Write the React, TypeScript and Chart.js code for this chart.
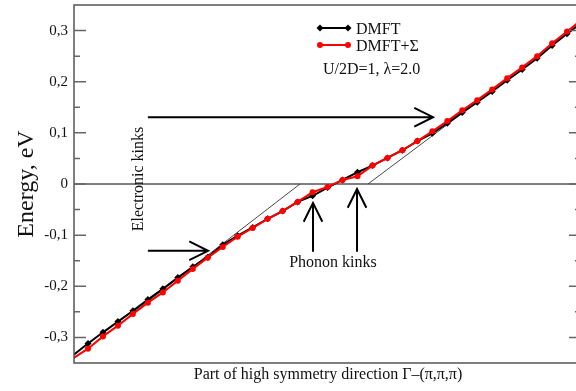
import React, { useEffect, useRef } from "react";
import { Chart, registerables } from "chart.js";
Chart.register(...registerables);

// k-point index along the path (edge points -1 and 33 only continue the lines to the frame)
const K_POS = [-1, 0, 1, 2, 3, 4, 5, 6, 7, 8, 9, 10, 11, 12, 13, 14, 15, 16, 17, 18, 19, 20, 21, 22, 23, 24, 25, 26, 27, 28, 29, 30, 31, 32, 33];
const DMFT = [-0.335, -0.312, -0.290, -0.269, -0.248, -0.226, -0.205, -0.183, -0.162, -0.143, -0.119, -0.101, -0.085, -0.068, -0.053, -0.035, -0.023, -0.007, 0.008, 0.023, 0.036, 0.051, 0.066, 0.084, 0.099, 0.119, 0.140, 0.160, 0.181, 0.203, 0.224, 0.246, 0.271, 0.294, 0.316];
const DMFT_SIGMA = [-0.341, -0.322, -0.298, -0.277, -0.254, -0.232, -0.212, -0.189, -0.166, -0.144, -0.123, -0.103, -0.086, -0.068, -0.053, -0.035, -0.016, -0.006, 0.008, 0.015, 0.036, 0.051, 0.066, 0.084, 0.103, 0.123, 0.144, 0.164, 0.185, 0.207, 0.228, 0.250, 0.275, 0.298, 0.322];
// thin "bare" dispersion guide lines
const BARE_LOW_X = [3, 14.16];
const BARE_LOW_Y = [-0.252, 0];
const BARE_HIGH_X = [18.7, 27];
const BARE_HIGH_Y = [0, 0.182];
const ZERO_X = [-2, 35];
const ZERO_Y = [0, 0];
const Y_TICKS = [-0.3, -0.2, -0.1, 0, 0.1, 0.2, 0.3];
const Y_MINOR = [-0.25, -0.15, -0.05, 0.05, 0.15, 0.25];
const X_MIN = -0.935;
const X_MAX = 32.93;
const Y_MIN = -0.35;
const Y_MAX = 0.35;
// arrows: [x1, y1, x2, y2] in data units
const ARROWS = [
  [4.0, 0.1306, 23.05, 0.1306],
  [4.0, -0.1306, 8.02, -0.1306],
  [15.03, -0.1326, 15.03, -0.037],
  [17.97, -0.1326, 17.97, -0.0097],
];

const SERIF = '"Liberation Serif", "Times New Roman", serif';

export default function App() {
  const ref = useRef<HTMLCanvasElement>(null);
  useEffect(() => {
    const toXY = (xs: number[], ys: number[]) => xs.map((x, i) => ({ x, y: ys[i] }));
    const radii = K_POS.map((k) => (k < 0 || k > 32 ? 0 : 3));

    const annot = {
      id: "annot",
      afterDatasetsDraw(chart: any) {
        const { ctx, chartArea: a, scales } = chart;
        const xs = scales.x;
        const ys = scales.y;
        const px = (v: number) => xs.getPixelForValue(v);
        const py = (v: number) => ys.getPixelForValue(v);
        ctx.save();
        // frame
        ctx.strokeStyle = "#555";
        ctx.lineWidth = 1.5;
        ctx.strokeRect(a.left, a.top, a.right - a.left, a.bottom - a.top);
        // inward ticks both sides
        ctx.strokeStyle = "#666";
        ctx.lineWidth = 1.5;
        const tick = (v: number, len: number) => {
          const yy = py(v);
          ctx.beginPath();
          ctx.moveTo(a.left, yy);
          ctx.lineTo(a.left + len, yy);
          ctx.moveTo(a.right, yy);
          ctx.lineTo(a.right - len, yy);
          ctx.stroke();
        };
        Y_TICKS.forEach((v) => tick(v, 12));
        Y_MINOR.forEach((v) => tick(v, 6));
        // arrows
        ctx.strokeStyle = "#000";
        ctx.lineWidth = 2;
        ARROWS.forEach(([x1, y1, x2, y2]) => {
          const X1 = px(x1), Y1 = py(y1), X2 = px(x2), Y2 = py(y2);
          const ang = Math.atan2(Y2 - Y1, X2 - X1);
          const hl = 21, ha = 0.46;
          ctx.beginPath();
          ctx.moveTo(X1, Y1);
          ctx.lineTo(X2, Y2);
          ctx.moveTo(X2 - hl * Math.cos(ang - ha), Y2 - hl * Math.sin(ang - ha));
          ctx.lineTo(X2, Y2);
          ctx.lineTo(X2 - hl * Math.cos(ang + ha), Y2 - hl * Math.sin(ang + ha));
          ctx.stroke();
        });
        // legend
        ctx.lineWidth = 2;
        ctx.strokeStyle = "#000";
        ctx.fillStyle = "#000";
        ctx.beginPath();
        ctx.moveTo(320, 28);
        ctx.lineTo(348, 28);
        ctx.stroke();
        [320, 348].forEach((xx) => {
          ctx.beginPath();
          ctx.moveTo(xx, 24.5);
          ctx.lineTo(xx + 3.5, 28);
          ctx.lineTo(xx, 31.5);
          ctx.lineTo(xx - 3.5, 28);
          ctx.closePath();
          ctx.fill();
        });
        ctx.strokeStyle = "#ff0000";
        ctx.fillStyle = "#ff0000";
        ctx.beginPath();
        ctx.moveTo(320, 45);
        ctx.lineTo(348, 45);
        ctx.stroke();
        [320, 348].forEach((xx) => {
          ctx.beginPath();
          ctx.arc(xx, 45, 3, 0, Math.PI * 2);
          ctx.fill();
        });
        ctx.fillStyle = "#111";
        ctx.textAlign = "left";
        ctx.textBaseline = "alphabetic";
        ctx.font = `16px ${SERIF}`;
        ctx.fillText("DMFT", 356, 34);
        ctx.fillText("DMFT+\u03A3", 356, 51);
        ctx.fillText("U/2D=1, \u03BB=2.0", 323, 74);
        // phonon kinks
        ctx.textAlign = "center";
        ctx.fillText("Phonon kinks", 333, 267);
        // x title
        ctx.fillText("Part of high symmetry direction \u0393\u2013(\u03C0,\u03C0,\u03C0)", 328, 379);
        // rotated texts
        ctx.save();
        ctx.translate(143, 179);
        ctx.rotate(-Math.PI / 2);
        ctx.font = `16px ${SERIF}`;
        ctx.fillText("Electronic kinks", 0, 0);
        ctx.restore();
        ctx.save();
        ctx.translate(33, 184);
        ctx.rotate(-Math.PI / 2);
        ctx.font = `24px ${SERIF}`;
        ctx.fillText("Energy, eV", 0, 0);
        ctx.restore();
        ctx.restore();
      },
    };

    const chart = new Chart(ref.current as HTMLCanvasElement, {
      type: "line",
      data: {
        datasets: [
          {
            label: "DMFT+\u03A3",
            data: toXY(K_POS, DMFT_SIGMA),
            borderColor: "#ff0000",
            backgroundColor: "#ff0000",
            borderWidth: 2,
            pointRadius: radii,
            pointStyle: "circle",
            pointBorderWidth: 0,
            order: 0,
          },
          {
            label: "DMFT",
            data: toXY(K_POS, DMFT),
            borderColor: "#000",
            backgroundColor: "#000",
            borderWidth: 2,
            pointRadius: radii.map((r) => (r ? 3.5 : 0)),
            pointStyle: "rectRot",
            pointBorderWidth: 0,
            order: 1,
          },
          {
            label: "bare1",
            data: toXY(BARE_LOW_X, BARE_LOW_Y),
            borderColor: "#333",
            borderWidth: 0.9,
            pointRadius: 0,
            order: 2,
          },
          {
            label: "bare2",
            data: toXY(BARE_HIGH_X, BARE_HIGH_Y),
            borderColor: "#333",
            borderWidth: 0.9,
            pointRadius: 0,
            order: 2,
          },
          {
            label: "zero",
            data: toXY(ZERO_X, ZERO_Y),
            borderColor: "#000",
            borderWidth: 1,
            pointRadius: 0,
            order: 3,
          },
        ],
      },
      options: {
        responsive: false,
        animation: false,
        devicePixelRatio: 1,
        layout: { padding: { left: 0, top: 5, right: 3, bottom: 0 } },
        plugins: { legend: { display: false }, tooltip: { enabled: false } },
        scales: {
          x: {
            type: "linear",
            min: X_MIN,
            max: X_MAX,
            ticks: { display: false },
            grid: { display: false, drawTicks: false },
            border: { display: false },
            afterFit: (s: any) => {
              s.height = 28;
              s.paddingLeft = 0;
              s.paddingRight = 0;
            },
          },
          y: {
            type: "linear",
            min: Y_MIN,
            max: Y_MAX,
            grid: { display: false, drawTicks: false },
            border: { display: false },
            afterBuildTicks: (s: any) => {
              s.ticks = Y_TICKS.map((v) => ({ value: v }));
            },
            ticks: {
              padding: 6,
              color: "#111",
              font: { family: SERIF, size: 15 },
              callback: (v: any) => (Number(v) === 0 ? "0" : Number(v).toFixed(1).replace(".", ",")),
            },
            afterFit: (s: any) => {
              s.width = 74;
              s.paddingTop = 0;
              s.paddingBottom = 0;
            },
          },
        },
      },
      plugins: [annot],
    } as any);
    return () => chart.destroy();
  }, []);
  return (
    <div style={{ position: "fixed", left: 0, top: 0, width: 576, height: 391, overflow: "hidden", background: "#fff" }}>
      <canvas ref={ref} width={584} height={391} style={{ display: "block", width: 584, height: 391 }} />
    </div>
  );
}
